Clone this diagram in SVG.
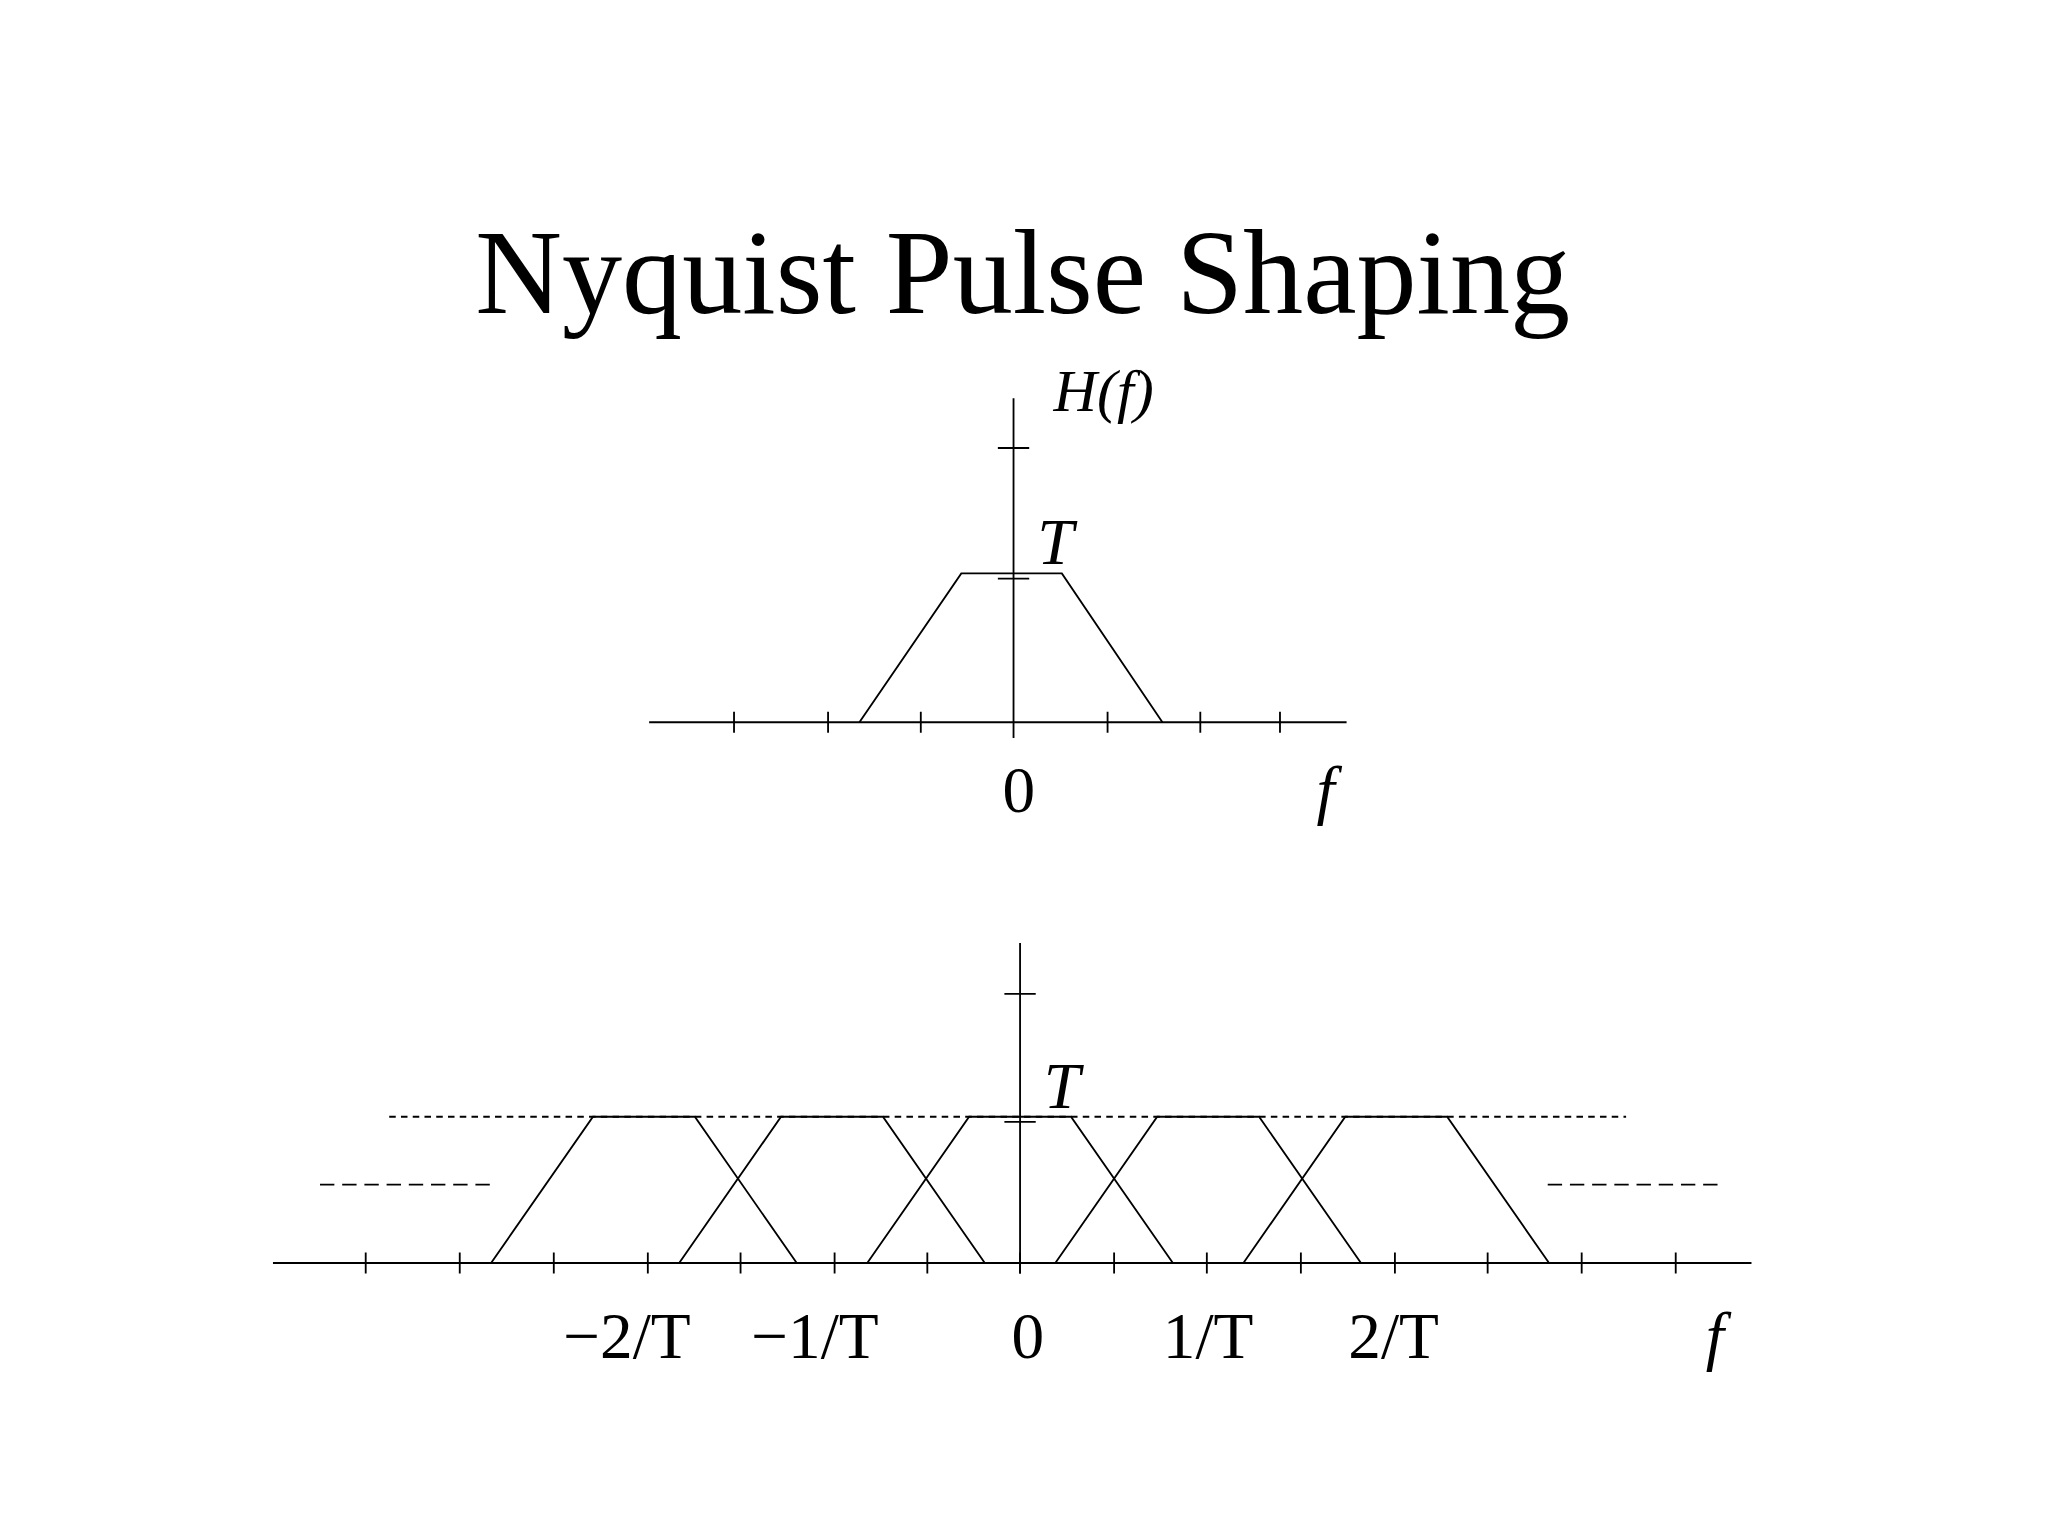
<svg xmlns="http://www.w3.org/2000/svg" width="2048" height="1536" viewBox="0 0 2048 1536">
<style>
.l{stroke:#000;stroke-width:1.4;fill:none}
.t{font-family:"Liberation Serif",serif;fill:#000}
.i{font-style:italic}
</style>
<rect width="2048" height="1536" fill="#fff"/>
<g transform="scale(1.3061)">
<text id="title" class="t" x="783" y="240" font-size="92" text-anchor="middle">Nyquist Pulse Shaping</text>
<g id="top">
<path class="l" d="M497 553H1031M776 305V565M764 343H788M764 443H788M562 545V561M634 545V561M705 545V561M776 545V561M848 545V561M919 545V561M980 545V561"/>
<path class="l" d="M658 553L736 439H813L890 553"/>
<text class="t" x="780" y="622" font-size="50" text-anchor="middle">0</text>
<text class="t i" x="1015" y="622" font-size="50" text-anchor="middle">f</text>
<text class="t i" x="808" y="432" font-size="50" text-anchor="middle">T</text>
<text class="t i" x="845" y="315" font-size="46" text-anchor="middle">H(f)</text>
</g>
<g id="bottom">
<path class="l" d="M209 967H1341M781 722V975M769 761H793M769 859H793"/>
<path class="l" d="M280 959V975M352 959V975M424 959V975M496 959V975M567 959V975M639 959V975M710 959V975M781 959V975M853 959V975M924 959V975M996 959V975M1068 959V975M1139 959V975M1211 959V975M1283 959V975"/>
<path class="l" stroke-dasharray="5,4" stroke-width="1" d="M298 855H1245"/>
<path class="l" stroke-dasharray="11,6" d="M245 907H375M1185 907H1315"/>
<path class="l" d="M376 967L454 855H532L610 967M520 967L598 855H676L754 967M664 967L742 855H820L898 967M808 967L886 855H964L1042 967M952 967L1030 855H1108L1186 967"/>
<text class="t i" x="813" y="848" font-size="50" text-anchor="middle">T</text>
<g font-size="50" text-anchor="middle">
<text class="t" x="480" y="1040">−2/T</text>
<text class="t" x="624" y="1040">−1/T</text>
<text class="t" x="787" y="1040">0</text>
<text class="t" x="925" y="1040">1/T</text>
<text class="t" x="1067" y="1040">2/T</text>
<text class="t i" x="1313" y="1040">f</text>
</g>
</g>
</g>
</svg>
